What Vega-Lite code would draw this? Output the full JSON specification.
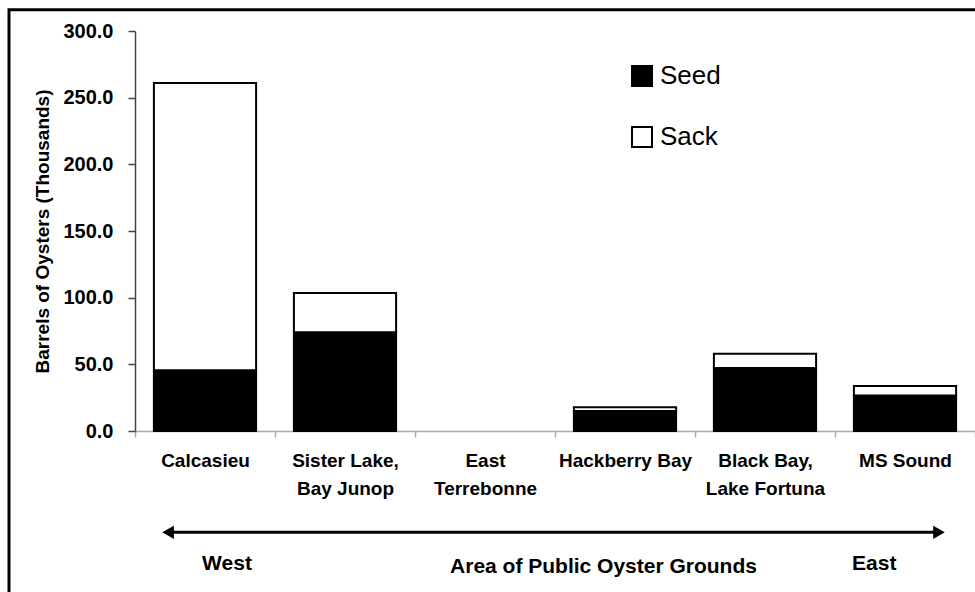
{
  "$schema": "https://vega.github.io/schema/vega-lite/v6.json",
  "width": 840,
  "height": 400,
  "autosize": {"type": "none"},
  "padding": {"left": 135, "top": 31, "right": 0, "bottom": 161},
  "background": "white",
  "config": {
    "view": {"stroke": null},
    "font": "Liberation Sans"
  },
  "resolve": {"scale": {"x": "independent"}},
  "layer": [
    {
      "data": {
        "values": [
          {"Area": "Calcasieu", "Type": "Seed", "Barrels": 45.5},
          {"Area": "Calcasieu", "Type": "Sack", "Barrels": 215.5},
          {"Area": "Sister Lake, Bay Junop", "Type": "Seed", "Barrels": 74},
          {"Area": "Sister Lake, Bay Junop", "Type": "Sack", "Barrels": 29.5},
          {"Area": "East Terrebonne", "Type": "Seed", "Barrels": 0},
          {"Area": "East Terrebonne", "Type": "Sack", "Barrels": 0},
          {"Area": "Hackberry Bay", "Type": "Seed", "Barrels": 15},
          {"Area": "Hackberry Bay", "Type": "Sack", "Barrels": 2.8},
          {"Area": "Black Bay, Lake Fortuna", "Type": "Seed", "Barrels": 47.3},
          {"Area": "Black Bay, Lake Fortuna", "Type": "Sack", "Barrels": 10.7},
          {"Area": "MS Sound", "Type": "Seed", "Barrels": 26.6},
          {"Area": "MS Sound", "Type": "Sack", "Barrels": 7.1}
        ]
      },
      "mark": {"type": "bar", "stroke": "black", "strokeWidth": 2, "width": {"band": 0.73}},
      "encoding": {
        "x": {
          "field": "Area",
          "type": "nominal",
          "sort": null,
          "scale": {"paddingInner": 0, "paddingOuter": 0},
          "axis": {
            "labelAngle": 0,
            "labelFont": "Liberation Sans",
            "labelFontWeight": "bold",
            "labelFontSize": 19,
            "labelColor": "black",
            "labelPadding": 14,
            "labelLineHeight": 28,
            "labelBaseline": "top",
            "labelExpr": "datum.label == 'East Terrebonne' ? ['East', 'Terrebonne'] : split(replace(datum.label, ', ', ',|'), '|')",
            "tickBand": "extent",
            "tickSize": 6,
            "tickColor": "#aaaaaa",
            "domainColor": "#aaaaaa",
            "domainWidth": 1.5,
            "tickWidth": 1.5,
            "title": "Area of Public Oyster Grounds",
            "titleFont": "Liberation Sans",
            "titleFontWeight": "bold",
            "titleFontSize": 21,
            "titleColor": "black",
            "titleX": 468,
            "titleY": 141,
            "titleBaseline": "alphabetic"
          }
        },
        "y": {
          "field": "Barrels",
          "type": "quantitative",
          "stack": "zero",
          "scale": {"domain": [0, 300], "nice": false},
          "axis": {
            "values": [0, 50, 100, 150, 200, 250, 300],
            "format": ".1f",
            "grid": false,
            "labelFont": "Liberation Sans",
            "labelFontWeight": "bold",
            "labelFontSize": 20,
            "labelColor": "black",
            "labelPadding": 15,
            "tickSize": 7,
            "tickColor": "#444444",
            "domainColor": "#444444",
            "domainWidth": 1.5,
            "tickWidth": 1.5,
            "title": "Barrels of Oysters (Thousands)",
            "titleFont": "Liberation Sans",
            "titleFontWeight": "bold",
            "titleFontSize": 19,
            "titleColor": "black",
            "titlePadding": 10
          }
        },
        "color": {
          "field": "Type",
          "type": "nominal",
          "scale": {"domain": ["Seed", "Sack"], "range": ["black", "white"]},
          "legend": {
            "title": null,
            "orient": "none",
            "legendX": 494,
            "legendY": 32,
            "padding": 0,
            "symbolType": "square",
            "symbolSize": 400,
            "symbolStrokeColor": "black",
            "symbolStrokeWidth": 2,
            "labelFont": "Liberation Sans",
            "labelFontSize": 26,
            "labelColor": "black",
            "labelOffset": 5,
            "rowPadding": 33
          }
        },
        "strokeOpacity": {"condition": {"test": "datum.Barrels == 0", "value": 0}, "value": 1},
        "order": {"field": "Type", "sort": "descending"}
      }
    },
    {
      "data": {"values": [{}]},
      "mark": {"type": "rule", "stroke": "black", "strokeWidth": 3},
      "encoding": {
        "x": {"datum": 0.24, "type": "quantitative", "scale": {"domain": [0, 6], "nice": false, "zero": false}, "axis": null},
        "x2": {"datum": 5.74},
        "y": {"datum": -76, "type": "quantitative"}
      }
    },
    {
      "data": {"values": [{"shape": "triangle-left", "pos": 0.236}, {"shape": "triangle-right", "pos": 5.743}]},
      "mark": {"type": "point", "filled": true, "color": "black", "size": 180, "opacity": 1},
      "encoding": {
        "x": {"field": "pos", "type": "quantitative", "scale": {"domain": [0, 6], "nice": false, "zero": false}, "axis": null},
        "y": {"datum": -76, "type": "quantitative"},
        "shape": {"field": "shape", "type": "nominal", "scale": null, "legend": null}
      }
    },
    {
      "data": {"values": [{"label": "West", "pos": 0.657}, {"label": "East", "pos": 5.28}]},
      "mark": {"type": "text", "font": "Liberation Sans", "fontWeight": "bold", "fontSize": 21, "color": "black", "baseline": "middle"},
      "encoding": {
        "x": {"field": "pos", "type": "quantitative", "scale": {"domain": [0, 6], "nice": false, "zero": false}, "axis": null},
        "y": {"datum": -100, "type": "quantitative"},
        "text": {"field": "label"}
      }
    },
    {
      "data": {"values": [{}]},
      "mark": {"type": "rect", "fill": null, "fillOpacity": 0, "stroke": "black", "strokeWidth": 3},
      "encoding": {
        "x": {"datum": -0.9, "type": "quantitative", "scale": {"domain": [0, 6], "nice": false, "zero": false}, "axis": null},
        "x2": {"datum": 7},
        "y": {"datum": 316, "type": "quantitative"},
        "y2": {"datum": -200}
      }
    }
  ]
}
